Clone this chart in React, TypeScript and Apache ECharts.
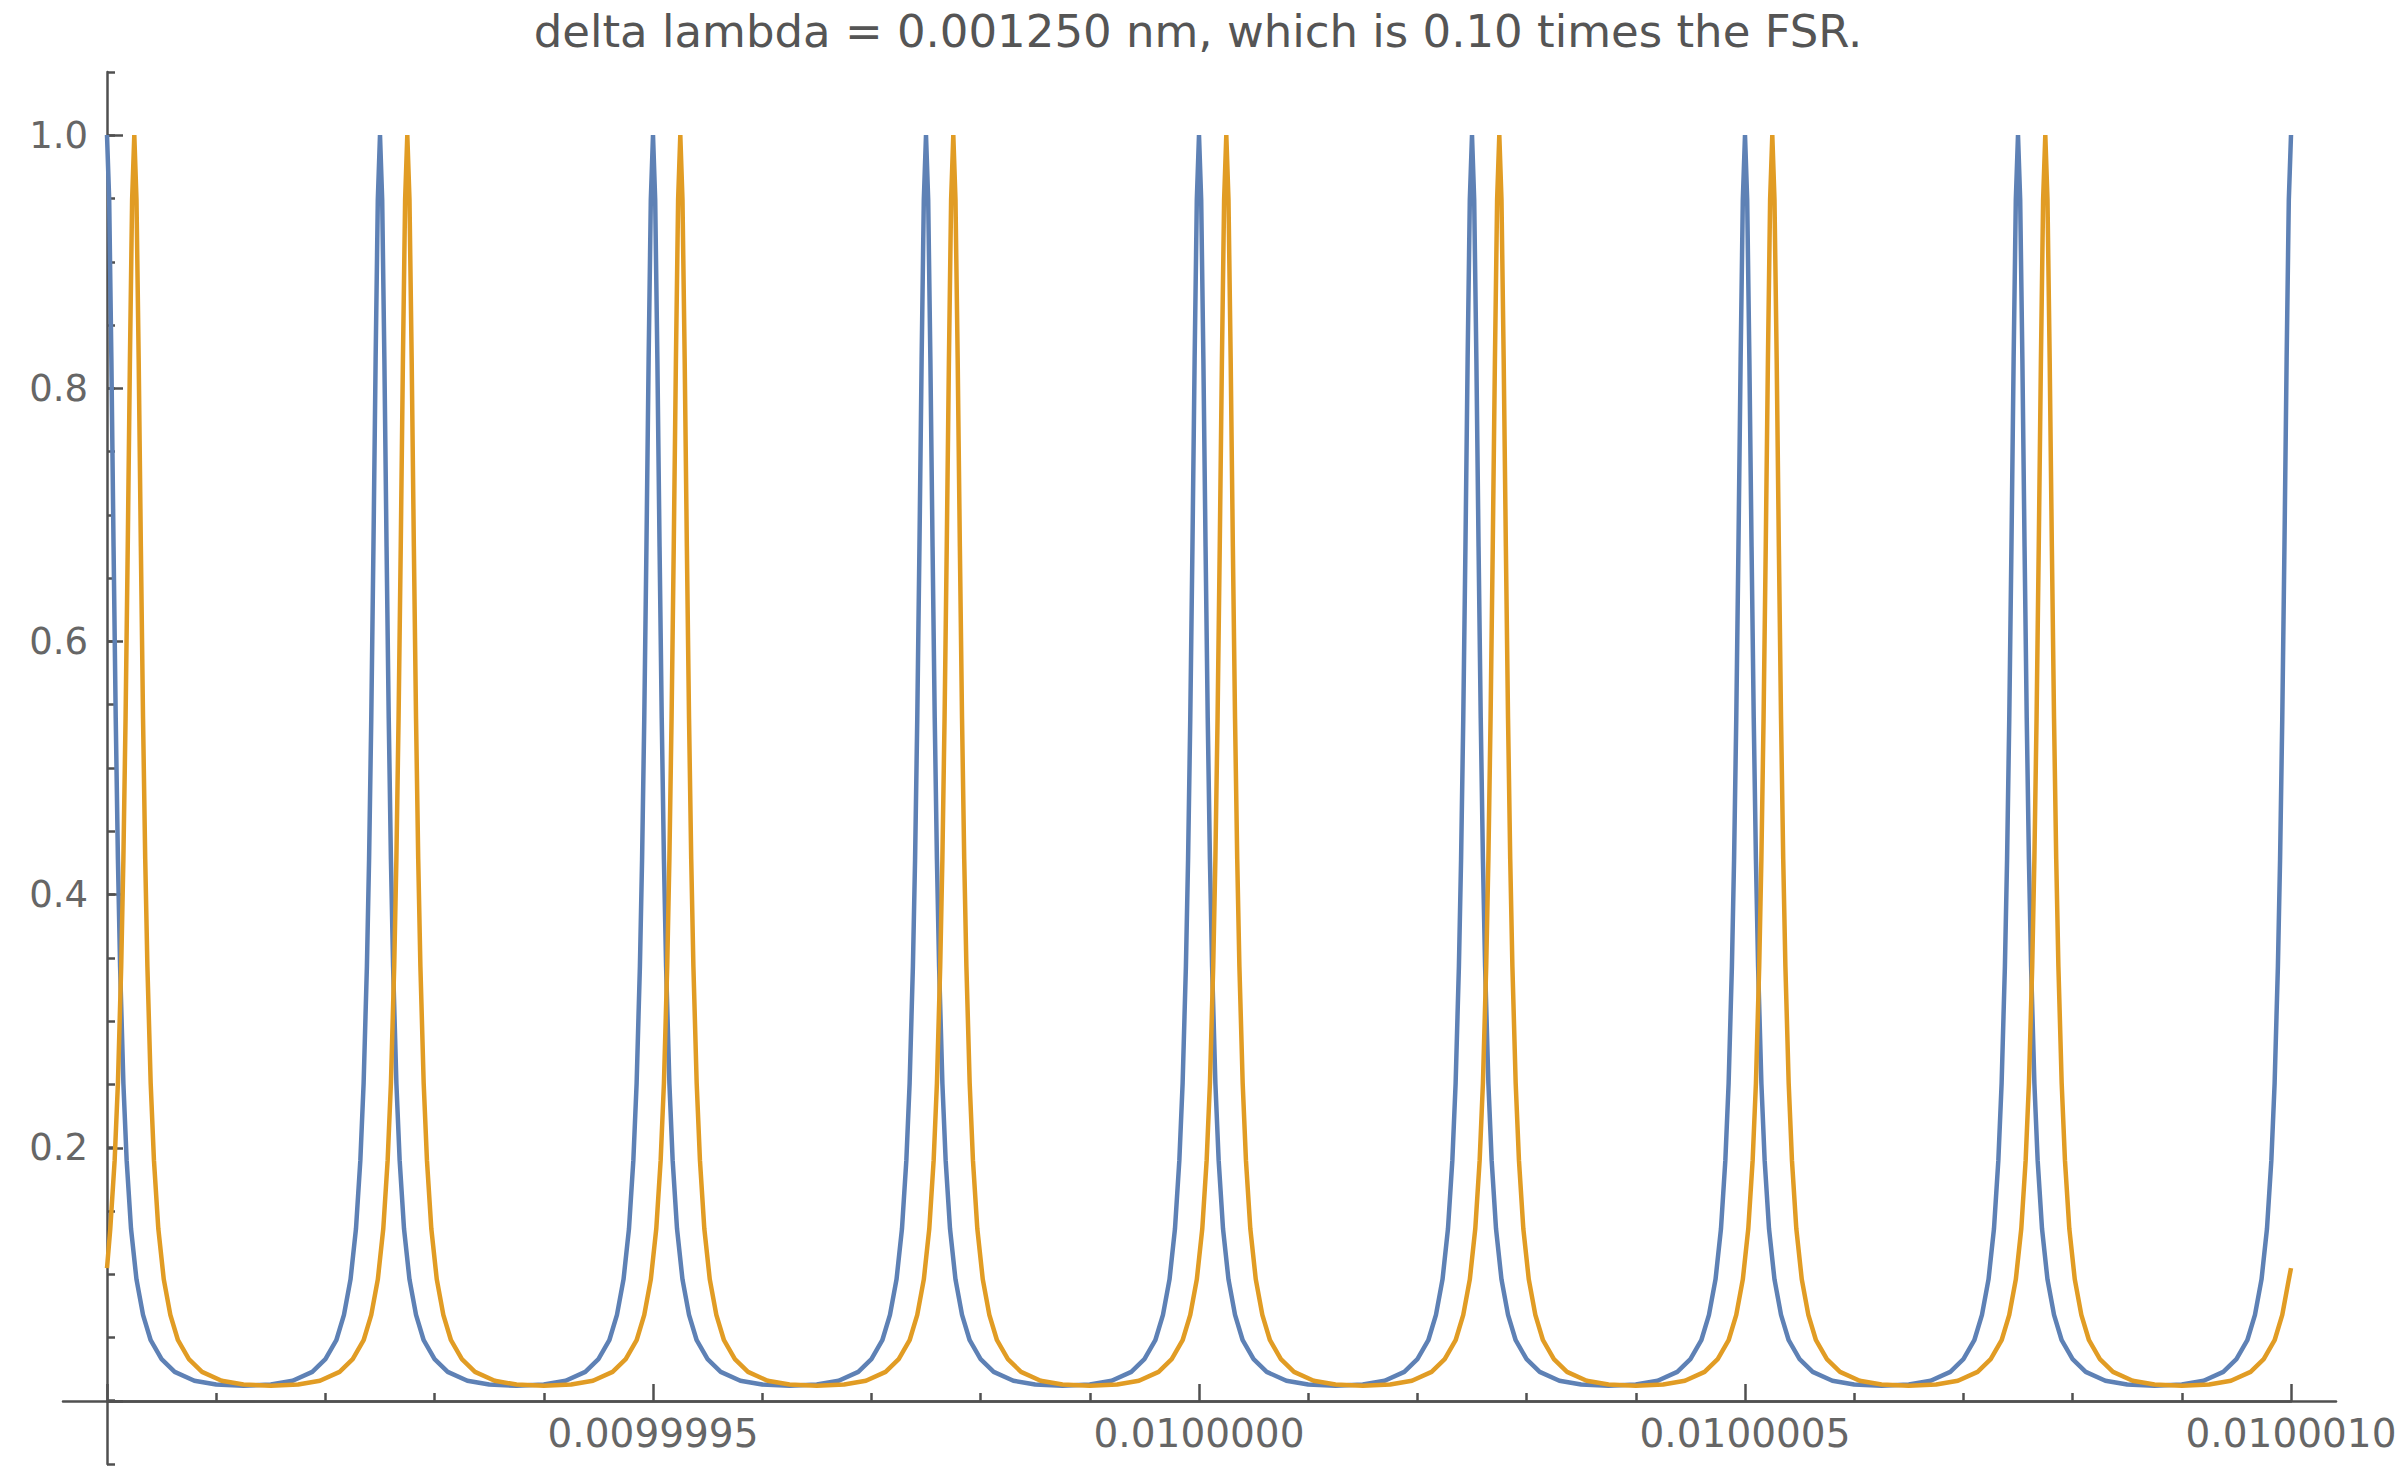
import React, { useEffect, useRef } from "react";
import * as echarts from "echarts";

// x values are offsets from 0.0100000 in units of 1e-9 (axis labels convert back)
const X_ORIGIN = 0.01;
const X_UNIT = 1e-9;

const TITLE = "delta lambda = 0.001250 nm, which is 0.10 times the FSR.";
const X_LABEL_VALUES = [-500, 0, 500, 1000];
const Y_LABEL_VALUES = [0.2, 0.4, 0.6, 0.8, 1.0];

const blueX = [
  -1000, -998, -996, -994, -992, -990, -988, -985, -982, -978, -973, -967, -960, -950, -938, -920, -900, -875, -850, -830, -812, -800, -790, -783, -777, -772, -768, -765, -762, -760, -758, -756, -754, -752,
  -750, -748, -746, -744, -742, -740, -738, -735, -732, -728, -723, -717, -710, -700, -688, -670, -650, -625, -600, -580, -562, -550, -540, -533, -527, -522, -518, -515, -512, -510, -508, -506, -504, -502,
  -500, -498, -496, -494, -492, -490, -488, -485, -482, -478, -473, -467, -460, -450, -438, -420, -400, -375, -350, -330, -312, -300, -290, -283, -277, -272, -268, -265, -262, -260, -258, -256, -254, -252,
  -250, -248, -246, -244, -242, -240, -238, -235, -232, -228, -223, -217, -210, -200, -188, -170, -150, -125, -100, -80, -62, -50, -40, -33, -27, -22, -18, -15, -12, -10, -8, -6, -4, -2,
  0, 2, 4, 6, 8, 10, 12, 15, 18, 22, 27, 33, 40, 50, 62, 80, 100, 125, 150, 170, 188, 200, 210, 217, 223, 228, 232, 235, 238, 240, 242, 244, 246, 248,
  250, 252, 254, 256, 258, 260, 262, 265, 268, 272, 277, 283, 290, 300, 312, 330, 350, 375, 400, 420, 438, 450, 460, 467, 473, 478, 482, 485, 488, 490, 492, 494, 496, 498,
  500, 502, 504, 506, 508, 510, 512, 515, 518, 522, 527, 533, 540, 550, 562, 580, 600, 625, 650, 670, 688, 700, 710, 717, 723, 728, 732, 735, 738, 740, 742, 744, 746, 748,
  750, 752, 754, 756, 758, 760, 762, 765, 768, 772, 777, 783, 790, 800, 812, 830, 850, 875, 900, 920, 938, 950, 960, 967, 973, 978, 982, 985, 988, 990, 992, 994, 996, 998,
  1000,
];
const blueY = [
  1, 0.949, 0.823, 0.675, 0.539, 0.428, 0.343, 0.251, 0.19, 0.136, 0.096, 0.068, 0.048, 0.033, 0.023, 0.016, 0.013, 0.012, 0.013, 0.016, 0.023, 0.033, 0.048, 0.068, 0.096, 0.136, 0.19, 0.251, 0.343, 0.428, 0.539, 0.675, 0.823, 0.949,
  1, 0.949, 0.823, 0.675, 0.539, 0.428, 0.343, 0.251, 0.19, 0.136, 0.096, 0.068, 0.048, 0.033, 0.023, 0.016, 0.013, 0.012, 0.013, 0.016, 0.023, 0.033, 0.048, 0.068, 0.096, 0.136, 0.19, 0.251, 0.343, 0.428, 0.539, 0.675, 0.823, 0.949,
  1, 0.949, 0.823, 0.675, 0.539, 0.428, 0.343, 0.251, 0.19, 0.136, 0.096, 0.068, 0.048, 0.033, 0.023, 0.016, 0.013, 0.012, 0.013, 0.016, 0.023, 0.033, 0.048, 0.068, 0.096, 0.136, 0.19, 0.251, 0.343, 0.428, 0.539, 0.675, 0.823, 0.949,
  1, 0.949, 0.823, 0.675, 0.539, 0.428, 0.343, 0.251, 0.19, 0.136, 0.096, 0.068, 0.048, 0.033, 0.023, 0.016, 0.013, 0.012, 0.013, 0.016, 0.023, 0.033, 0.048, 0.068, 0.096, 0.136, 0.19, 0.251, 0.343, 0.428, 0.539, 0.675, 0.823, 0.949,
  1, 0.949, 0.823, 0.675, 0.539, 0.428, 0.343, 0.251, 0.19, 0.136, 0.096, 0.068, 0.048, 0.033, 0.023, 0.016, 0.013, 0.012, 0.013, 0.016, 0.023, 0.033, 0.048, 0.068, 0.096, 0.136, 0.19, 0.251, 0.343, 0.428, 0.539, 0.675, 0.823, 0.949,
  1, 0.949, 0.823, 0.675, 0.539, 0.428, 0.343, 0.251, 0.19, 0.136, 0.096, 0.068, 0.048, 0.033, 0.023, 0.016, 0.013, 0.012, 0.013, 0.016, 0.023, 0.033, 0.048, 0.068, 0.096, 0.136, 0.19, 0.251, 0.343, 0.428, 0.539, 0.675, 0.823, 0.949,
  1, 0.949, 0.823, 0.675, 0.539, 0.428, 0.343, 0.251, 0.19, 0.136, 0.096, 0.068, 0.048, 0.033, 0.023, 0.016, 0.013, 0.012, 0.013, 0.016, 0.023, 0.033, 0.048, 0.068, 0.096, 0.136, 0.19, 0.251, 0.343, 0.428, 0.539, 0.675, 0.823, 0.949,
  1, 0.949, 0.823, 0.675, 0.539, 0.428, 0.343, 0.251, 0.19, 0.136, 0.096, 0.068, 0.048, 0.033, 0.023, 0.016, 0.013, 0.012, 0.013, 0.016, 0.023, 0.033, 0.048, 0.068, 0.096, 0.136, 0.19, 0.251, 0.343, 0.428, 0.539, 0.675, 0.823, 0.949,
  1,
];

const orangeX = [
  -1000, -997, -993, -990, -987, -985, -983, -981, -979, -977,
  -975, -973, -971, -969, -967, -965, -963, -960, -957, -953, -948, -942, -935, -925, -913, -895, -875, -850, -825, -805, -787, -775, -765, -758, -752, -747, -743, -740, -737, -735, -733, -731, -729, -727,
  -725, -723, -721, -719, -717, -715, -713, -710, -707, -703, -698, -692, -685, -675, -663, -645, -625, -600, -575, -555, -537, -525, -515, -508, -502, -497, -493, -490, -487, -485, -483, -481, -479, -477,
  -475, -473, -471, -469, -467, -465, -463, -460, -457, -453, -448, -442, -435, -425, -413, -395, -375, -350, -325, -305, -287, -275, -265, -258, -252, -247, -243, -240, -237, -235, -233, -231, -229, -227,
  -225, -223, -221, -219, -217, -215, -213, -210, -207, -203, -198, -192, -185, -175, -163, -145, -125, -100, -75, -55, -37, -25, -15, -8, -2, 3, 7, 10, 13, 15, 17, 19, 21, 23,
  25, 27, 29, 31, 33, 35, 37, 40, 43, 47, 52, 58, 65, 75, 87, 105, 125, 150, 175, 195, 213, 225, 235, 242, 248, 253, 257, 260, 263, 265, 267, 269, 271, 273,
  275, 277, 279, 281, 283, 285, 287, 290, 293, 297, 302, 308, 315, 325, 337, 355, 375, 400, 425, 445, 463, 475, 485, 492, 498, 503, 507, 510, 513, 515, 517, 519, 521, 523,
  525, 527, 529, 531, 533, 535, 537, 540, 543, 547, 552, 558, 565, 575, 587, 605, 625, 650, 675, 695, 713, 725, 735, 742, 748, 753, 757, 760, 763, 765, 767, 769, 771, 773,
  775, 777, 779, 781, 783, 785, 787, 790, 793, 797, 802, 808, 815, 825, 837, 855, 875, 900, 925, 945, 963, 975, 985, 992, 998, 1000,
];
const orangeY = [
  0.105, 0.136, 0.19, 0.251, 0.343, 0.428, 0.539, 0.675, 0.823, 0.949,
  1, 0.949, 0.823, 0.675, 0.539, 0.428, 0.343, 0.251, 0.19, 0.136, 0.096, 0.068, 0.048, 0.033, 0.023, 0.016, 0.013, 0.012, 0.013, 0.016, 0.023, 0.033, 0.048, 0.068, 0.096, 0.136, 0.19, 0.251, 0.343, 0.428, 0.539, 0.675, 0.823, 0.949,
  1, 0.949, 0.823, 0.675, 0.539, 0.428, 0.343, 0.251, 0.19, 0.136, 0.096, 0.068, 0.048, 0.033, 0.023, 0.016, 0.013, 0.012, 0.013, 0.016, 0.023, 0.033, 0.048, 0.068, 0.096, 0.136, 0.19, 0.251, 0.343, 0.428, 0.539, 0.675, 0.823, 0.949,
  1, 0.949, 0.823, 0.675, 0.539, 0.428, 0.343, 0.251, 0.19, 0.136, 0.096, 0.068, 0.048, 0.033, 0.023, 0.016, 0.013, 0.012, 0.013, 0.016, 0.023, 0.033, 0.048, 0.068, 0.096, 0.136, 0.19, 0.251, 0.343, 0.428, 0.539, 0.675, 0.823, 0.949,
  1, 0.949, 0.823, 0.675, 0.539, 0.428, 0.343, 0.251, 0.19, 0.136, 0.096, 0.068, 0.048, 0.033, 0.023, 0.016, 0.013, 0.012, 0.013, 0.016, 0.023, 0.033, 0.048, 0.068, 0.096, 0.136, 0.19, 0.251, 0.343, 0.428, 0.539, 0.675, 0.823, 0.949,
  1, 0.949, 0.823, 0.675, 0.539, 0.428, 0.343, 0.251, 0.19, 0.136, 0.096, 0.068, 0.048, 0.033, 0.023, 0.016, 0.013, 0.012, 0.013, 0.016, 0.023, 0.033, 0.048, 0.068, 0.096, 0.136, 0.19, 0.251, 0.343, 0.428, 0.539, 0.675, 0.823, 0.949,
  1, 0.949, 0.823, 0.675, 0.539, 0.428, 0.343, 0.251, 0.19, 0.136, 0.096, 0.068, 0.048, 0.033, 0.023, 0.016, 0.013, 0.012, 0.013, 0.016, 0.023, 0.033, 0.048, 0.068, 0.096, 0.136, 0.19, 0.251, 0.343, 0.428, 0.539, 0.675, 0.823, 0.949,
  1, 0.949, 0.823, 0.675, 0.539, 0.428, 0.343, 0.251, 0.19, 0.136, 0.096, 0.068, 0.048, 0.033, 0.023, 0.016, 0.013, 0.012, 0.013, 0.016, 0.023, 0.033, 0.048, 0.068, 0.096, 0.136, 0.19, 0.251, 0.343, 0.428, 0.539, 0.675, 0.823, 0.949,
  1, 0.949, 0.823, 0.675, 0.539, 0.428, 0.343, 0.251, 0.19, 0.136, 0.096, 0.068, 0.048, 0.033, 0.023, 0.016, 0.013, 0.012, 0.013, 0.016, 0.023, 0.033, 0.048, 0.068, 0.096, 0.105,
];

const BLUE = "#5E81B5";
const ORANGE = "#E19C24";
const AXIS = "#505050";
const LABEL = "#666666";
const TITLE_COLOR = "#555555";
const FONT = "DejaVu Sans";

export default function App() {
  const ref = useRef<HTMLDivElement>(null);

  useEffect(() => {
    document.body.style.margin = "0";
    if (!ref.current) return;
    const chart = echarts.init(ref.current, undefined, { renderer: "svg" });

    const blueData = blueX.map((x, i) => [x, blueY[i]]);
    const orangeData = orangeX.map((x, i) => [x, orangeY[i]]);

    const axisLine = { show: true, onZero: false, lineStyle: { color: AXIS, width: 2.5 } };

    chart.setOption({
      animation: false,
      backgroundColor: "#ffffff",
      graphic: [
        {
          type: "text",
          style: {
            text: TITLE,
            x: 1198,
            y: 31,
            textAlign: "center",
            textVerticalAlign: "middle",
            fontFamily: FONT,
            fontSize: 45,
            fill: TITLE_COLOR,
          },
        },
      ],
      grid: [
        { left: 107, right: 109, top: 135, bottom: 74 }, // data
        { left: 63, right: 64, top: 135, bottom: 74 }, // x-axis extension
        { left: 107, right: 109, top: 72, bottom: 11 }, // y-axis extension
      ],
      xAxis: [
        {
          type: "value",
          gridIndex: 0,
          min: -1000,
          max: 1000,
          interval: 500,
          axisLine,
          axisTick: { show: true, inside: true, length: 17, lineStyle: { color: AXIS, width: 2.5 } },
          minorTick: { show: true, splitNumber: 5, length: 8, lineStyle: { color: AXIS, width: 2.5 } },
          splitLine: { show: false },
          minorSplitLine: { show: false },
          axisLabel: {
            show: true,
            margin: 13,
            fontFamily: FONT,
            fontSize: 39,
            color: LABEL,
            showMinLabel: true,
            showMaxLabel: true,
            formatter: (v: number) =>
              X_LABEL_VALUES.indexOf(Math.round(v)) >= 0 ? (X_ORIGIN + v * X_UNIT).toFixed(7) : "",
          },
        },
        {
          type: "value",
          gridIndex: 1,
          min: -1040,
          max: 1041,
          axisLine,
          axisTick: { show: false },
          axisLabel: { show: false },
          splitLine: { show: false },
        },
        {
          type: "value",
          gridIndex: 2,
          min: -1000,
          max: 1000,
          show: false,
        },
      ],
      yAxis: [
        {
          type: "value",
          gridIndex: 0,
          min: 0,
          max: 1,
          interval: 0.2,
          axisLine: { show: false, onZero: false },
          axisTick: { show: true, inside: true, length: 16, lineStyle: { color: AXIS, width: 2.5 } },
          splitLine: { show: false },
          axisLabel: {
            show: true,
            margin: 19,
            fontFamily: FONT,
            fontSize: 37,
            color: LABEL,
            formatter: (v: number) => {
              const r = Math.round(v * 10) / 10;
              return Y_LABEL_VALUES.indexOf(r) >= 0 ? r.toFixed(1) : "";
            },
          },
        },
        {
          type: "value",
          gridIndex: 1,
          min: 0,
          max: 1,
          show: false,
        },
        {
          type: "value",
          gridIndex: 2,
          min: -0.05,
          max: 1.05,
          interval: 0.05,
          axisLine,
          axisTick: { show: true, inside: true, length: 8, lineStyle: { color: AXIS, width: 2.5 } },
          axisLabel: { show: false },
          splitLine: { show: false },
        },
      ],
      series: [
        {
          type: "line",
          xAxisIndex: 0,
          yAxisIndex: 0,
          data: blueData,
          showSymbol: false,
          symbol: "none",
          clip: false,
          lineStyle: { color: BLUE, width: 4.5 },
          z: 3,
        },
        {
          type: "line",
          xAxisIndex: 0,
          yAxisIndex: 0,
          data: orangeData,
          showSymbol: false,
          symbol: "none",
          clip: false,
          lineStyle: { color: ORANGE, width: 4.5 },
          z: 4,
        },
      ],
    });

    return () => chart.dispose();
  }, []);

  return <div ref={ref} style={{ width: 2400, height: 1475 }} />;
}
